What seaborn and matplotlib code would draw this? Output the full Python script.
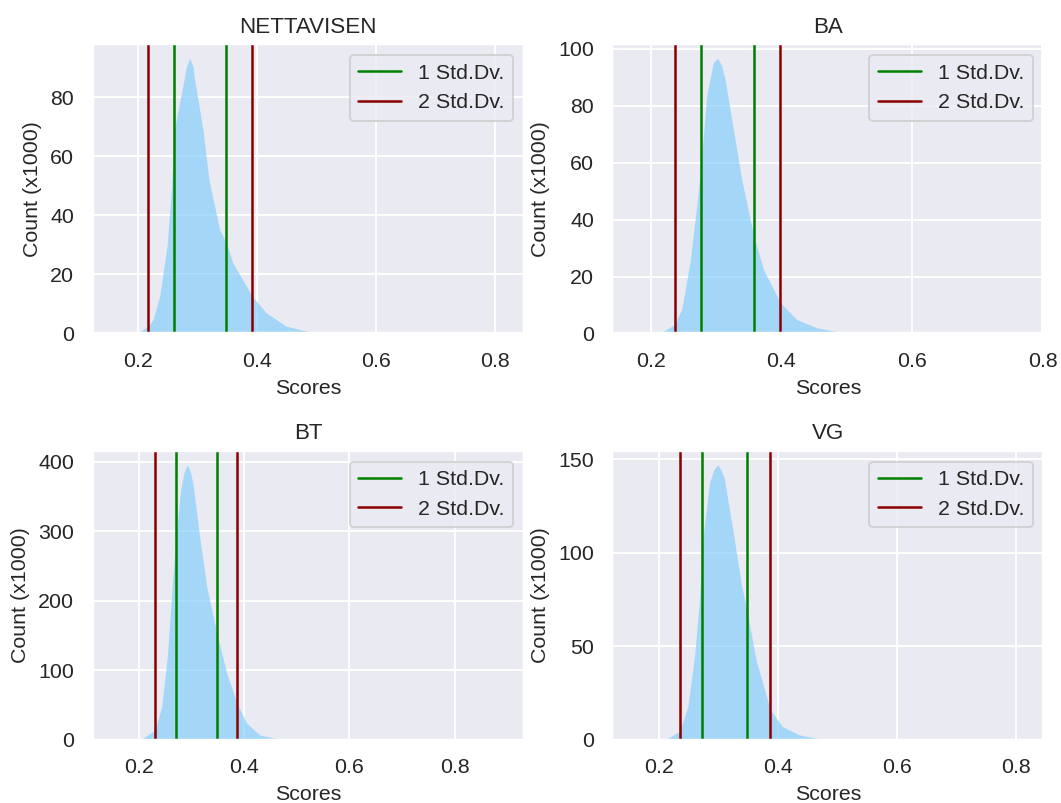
import matplotlib
matplotlib.use('Agg')
import matplotlib.pyplot as plt
from matplotlib.ticker import MultipleLocator
import seaborn as sns

sns.set_theme(style='darkgrid')
plt.rcParams['font.family'] = ['Liberation Sans', 'DejaVu Sans']
plt.rcParams['axes.titlesize'] = 11.5
plt.rcParams['axes.labelsize'] = 11
plt.rcParams['xtick.labelsize'] = 11
plt.rcParams['ytick.labelsize'] = 11
plt.rcParams['legend.fontsize'] = 11

# score distributions, counts in thousands
nett_scores = [0.156, 0.1966, 0.2168, 0.2246, 0.2358, 0.2481, 0.2555, 0.2605, 0.2767, 0.2807, 0.2862,
               0.2918, 0.2946, 0.3086, 0.3187, 0.3366, 0.3479, 0.359, 0.3916, 0.4151, 0.4487, 0.4992, 0.816]
nett_counts = [0, 0, 2.5, 4.7, 12.6, 29.5, 48.7, 69.0, 85.9, 90.4, 93.2,
               90.4, 85.9, 69.0, 52.1, 35.2, 30.7, 23.9, 12.6, 7.0, 2.5, 0, 0]

ba_scores = [0.171, 0.2138, 0.2363, 0.2471, 0.2598, 0.2701, 0.2762, 0.2854, 0.2956, 0.3023,
             0.3085, 0.3135, 0.3262, 0.339, 0.3575, 0.3723, 0.3983, 0.4233, 0.454, 0.5001, 0.7715]
ba_counts = [0, 0, 3.2, 8.5, 24.9, 44.8, 57.7, 83.6, 95.3, 96.7,
             94.0, 89.4, 71.8, 54.2, 34.3, 22.5, 10.8, 4.9, 2.0, 0, 0]

bt_scores = [0.1499, 0.2025, 0.231, 0.2437, 0.2543, 0.2627, 0.2702, 0.2797, 0.286, 0.2923, 0.2985,
             0.3037, 0.3164, 0.3291, 0.3481, 0.3671, 0.3866, 0.4051, 0.4303, 0.4746, 0.894]
bt_counts = [0, 0, 14, 48, 120, 211, 288, 360, 385, 396, 385,
             365, 288, 221, 154, 96, 53, 24, 7, 0, 0]

vg_scores = [0.1548, 0.2096, 0.2347, 0.2487, 0.2599, 0.2683, 0.2738, 0.2851, 0.292, 0.299, 0.305,
             0.3102, 0.3242, 0.3383, 0.3488, 0.3634, 0.3874, 0.4081, 0.4361, 0.4809, 0.814]
vg_counts = [0, 0, 4.5, 17.8, 44.6, 74.9, 107, 137.4, 144, 147, 144,
             139.2, 112.4, 83.9, 67.8, 42.8, 16.1, 7.1, 2.7, 0, 0]

# mean +/- 1 and 2 standard deviations
nett_sd1 = [0.2605, 0.3479]
nett_sd2 = [0.2168, 0.3916]
ba_sd1 = [0.2762, 0.3575]
ba_sd2 = [0.2363, 0.3983]
bt_sd1 = [0.2702, 0.3481]
bt_sd2 = [0.2310, 0.3866]
vg_sd1 = [0.2728, 0.3488]
vg_sd2 = [0.2347, 0.3874]

sites = ['NETTAVISEN', 'BA', 'BT', 'VG']
scores = [nett_scores, ba_scores, bt_scores, vg_scores]
counts = [nett_counts, ba_counts, bt_counts, vg_counts]
sd1 = [nett_sd1, ba_sd1, bt_sd1, vg_sd1]
sd2 = [nett_sd2, ba_sd2, bt_sd2, vg_sd2]
y_steps = [20, 20, 100, 50]

fig, axes = plt.subplots(2, 2, figsize=(1061 / 140, 803 / 140), dpi=140)
for ax, site, x, y, s1, s2, step in zip(axes.flat, sites, scores, counts, sd1, sd2, y_steps):
    ax.fill_between(x, y, color='lightskyblue', alpha=0.7, linewidth=0)
    for i, v in enumerate(s1):
        ax.axvline(v, color='green', linewidth=1.3, label='1 Std.Dv.' if i == 0 else None)
    for i, v in enumerate(s2):
        ax.axvline(v, color='darkred', linewidth=1.3, label='2 Std.Dv.' if i == 0 else None)
    ax.set_ylim(bottom=0)
    ax.xaxis.set_major_locator(MultipleLocator(0.2))
    ax.yaxis.set_major_locator(MultipleLocator(step))
    ax.set_title(site)
    ax.set_xlabel('Scores')
    ax.set_ylabel('Count (x1000)')
    ax.legend(loc='upper right')

plt.subplots_adjust(left=0.0874, right=0.9835, top=0.9446, bottom=0.0785,
                    wspace=0.2057, hspace=0.4066)
plt.savefig('out.png', dpi=140)
